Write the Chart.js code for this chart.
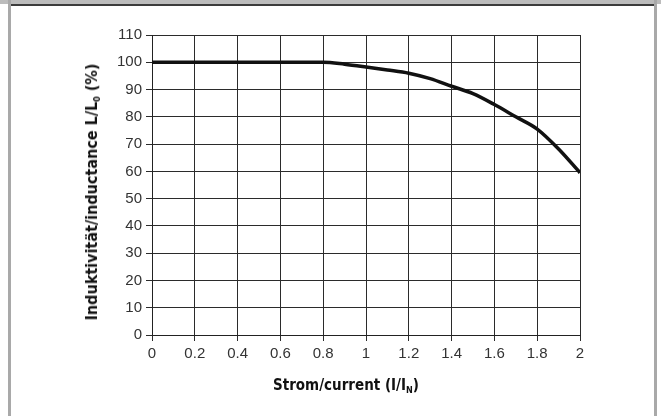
<!DOCTYPE html>
<html>
<head>
<meta charset="utf-8">
<script src="https://cdn.jsdelivr.net/npm/chart.js@4/dist/chart.umd.min.js"></script>
<style>
    html, body { margin: 0; padding: 0; background: #fff; }
    #frame { position: relative; width: 661px; height: 416px; overflow: hidden; background: #fff; }
    #frame canvas { position: absolute; left: 0; top: 0; }
    .band { position: absolute; left: 0; top: 0; width: 661px; height: 4px; background: #bcbcbc; }
    .rule { position: absolute; left: 11px; top: 4px; width: 644px; height: 2px; background: #3c3c3c; }
    .side { position: absolute; top: 0; width: 3px; height: 416px; background: #a9a9a9; }
    .title {
        position: absolute;
        font-family: "DejaVu Sans Condensed", sans-serif;
        font-weight: bold;
        font-size: 15px;
        color: #111;
        white-space: nowrap;
        transform: translate(-50%, -50%);
    }
    .title sub { font-size: 9px; vertical-align: -3px; }
    #ytitle { left: 92px; top: 192px; font-size: 16px; transform: translate(-50%, -50%) rotate(-90deg); }
    #xtitle { left: 346px; top: 385px; font-size: 15px; }
</style>
</head>
<body>
<div id="frame">
    <canvas id="chart" width="661" height="416"></canvas>
    <div class="band"></div>
    <div class="rule"></div>
    <div class="side" style="left: 8px;"></div>
    <div class="side" style="left: 654px;"></div>
    <div class="title" id="ytitle">Induktivität/inductance L/L<sub>0</sub> (%)</div>
    <div class="title" id="xtitle">Strom/current (I/I<sub>N</sub>)</div>
</div>
<script>
const current = [0, 0.2, 0.4, 0.6, 0.8, 0.9, 1.0, 1.1, 1.2, 1.3, 1.4, 1.5, 1.6, 1.7, 1.8, 1.9, 2.0];
const inductance = [100, 100, 100, 100, 100, 99.3, 98.3, 97.2, 96, 94, 91.2, 88.5, 84.5, 80, 75.5, 68.2, 59.5];

const xTicks = [0, 0.2, 0.4, 0.6, 0.8, 1, 1.2, 1.4, 1.6, 1.8, 2];
const yTicks = [0, 10, 20, 30, 40, 50, 60, 70, 80, 90, 100, 110];

const tickFont = { family: "'Liberation Sans', Arial, sans-serif", size: 15 };
const gridStyle = { color: "#2b2b2b", lineWidth: 1, tickLength: 6, drawTicks: true };

new Chart(document.getElementById("chart"), {
    type: "line",
    data: {
        datasets: [
            {
                data: current.map((x, i) => ({ x, y: inductance[i] })),
                borderColor: "#111",
                borderWidth: 3.5,
                pointRadius: 0,
                tension: 0.25,
                cubicInterpolationMode: "monotone",
                fill: false,
            },
        ],
    },
    options: {
        responsive: false,
        animation: false,
        devicePixelRatio: 1,
        layout: { padding: { top: 35, right: 81, left: 0, bottom: 0 } },
        plugins: { legend: { display: false }, tooltip: { enabled: false } },
        scales: {
            x: {
                type: "linear",
                min: 0,
                max: 2,
                afterBuildTicks: (scale) => { scale.ticks = xTicks.map((value) => ({ value })); },
                afterFit: (scale) => { scale.height = 81; },
                ticks: { color: "#333", font: tickFont, padding: 4, maxRotation: 0, autoSkip: false, callback: (v) => String(v) },
                grid: gridStyle,
                border: { color: "#222", width: 1 },
            },
            y: {
                min: 0,
                max: 110,
                afterBuildTicks: (scale) => { scale.ticks = yTicks.map((value) => ({ value })); },
                afterFit: (scale) => { scale.width = 152; },
                ticks: { color: "#333", font: tickFont, padding: 4, autoSkip: false },
                grid: gridStyle,
                border: { color: "#222", width: 1 },
            },
        },
    },
});
</script>
</body>
</html>
